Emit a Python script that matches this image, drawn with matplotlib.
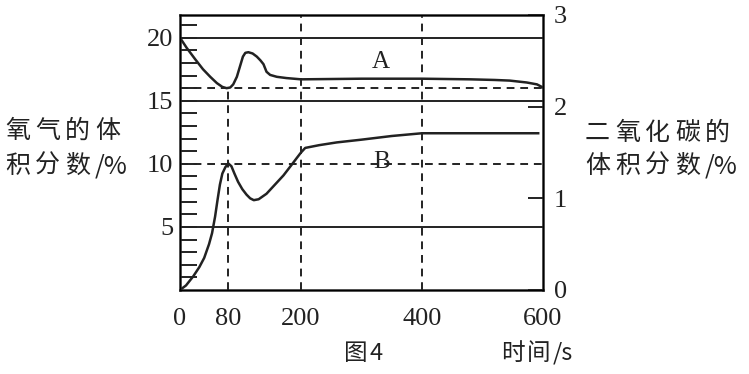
import matplotlib
matplotlib.use("Agg")
import matplotlib.pyplot as plt

# curve A: oxygen (left axis, %), curve B: carbon dioxide (right axis, %)
t_a = [0, 11, 25, 38, 50, 61, 70, 77, 83, 88, 94, 99, 104, 108, 113, 120, 127,
       133, 138, 143, 149, 160, 176, 200, 300, 400, 480, 520, 545, 573, 590, 600]
o2 = [20.0, 19.2, 18.3, 17.5, 16.9, 16.4, 16.1, 16.0, 16.05, 16.3, 16.9, 17.7,
      18.5, 18.8, 18.85, 18.75, 18.5, 18.2, 17.9, 17.3, 17.05, 16.9, 16.8, 16.7,
      16.75, 16.75, 16.7, 16.65, 16.6, 16.45, 16.3, 16.05]

t_b = [0, 10, 22, 32, 40, 48, 53, 58, 62, 66, 70, 75, 80, 85, 90, 96, 103, 110,
       116, 122, 130, 143, 157, 171, 185, 193, 200, 207, 230, 259, 300, 350, 400,
       500, 592]
co2 = [0, 0.05, 0.15, 0.25, 0.35, 0.5, 0.62, 0.8, 0.98, 1.15, 1.27, 1.34, 1.38,
       1.35, 1.27, 1.18, 1.1, 1.04, 1.0, 0.98, 0.99, 1.05, 1.15, 1.25, 1.37,
       1.44, 1.5, 1.55, 1.58, 1.61, 1.64, 1.68, 1.71, 1.71, 1.71]

x_ticks = [0, 80, 200, 400, 600]
left_ticks = [5, 10, 15, 20]
right_ticks = [0, 1, 2, 3]

num_font = "Liberation Serif"
cjk = ["Noto Sans CJK SC", "DejaVu Sans"]
ink = "#222222"

W, H = 749, 374
fig = plt.figure(figsize=(W / 100, H / 100), dpi=100)
ax = fig.add_axes([0.2403, 0.2246, 0.4847, 0.7353])
ax2 = ax.twinx()

ax.set_xlim(0, 600)
ax.set_ylim(0, 21.8)
ax2.set_ylim(0, 3)

# guide lines
for v in [20, 15, 5]:
    ax.axhline(v, color=ink, lw=1.4)
for v in [10, 16]:
    ax.axhline(v, color=ink, lw=1.4, ls=(0, (4, 3)))
ax.vlines(80, 0, 16, color=ink, lw=1.4, ls=(0, (4, 3)))
ax.vlines([200, 400], 0, 21.8, color=ink, lw=1.4, ls=(0, (4, 3)))

ax.plot(t_a, o2, color=ink, lw=1.8)
ax2.plot(t_b, co2, color=ink, lw=1.8)

ax.text(332, 18.1, "A", fontsize=18, family=num_font, ha="center", va="center", color=ink)
ax2.text(334, 1.40, "B", fontsize=18, family=num_font, ha="center", va="center", color=ink)

for s in ax.spines.values():
    s.set_linewidth(1.8)
    s.set_color(ink)

ax.set_xticks(x_ticks)
ax.set_xticklabels([str(v) for v in x_ticks], fontsize=19, family=num_font, color=ink)
ax.tick_params(axis="x", length=0, pad=13)
ax.set_yticks(left_ticks)
ax.set_yticklabels([str(v) for v in left_ticks], fontsize=19, family=num_font, color=ink)
ax.set_yticks(range(1, 22), minor=True)
ax.tick_params(axis="y", which="both", direction="in", length=12, width=1.4,
               color=ink, pad=5)
ax2.set_yticks(right_ticks)
ax2.set_yticklabels([str(v) for v in right_ticks], fontsize=19, family=num_font, color=ink)
ax2.tick_params(axis="y", direction="in", length=11, width=1.4, color=ink, pad=8)


def spaced(x0, y0, parts, step=30, size=18):
    # the printed labels are letter-spaced, so set each glyph on its own
    for i, p in enumerate(parts):
        fig.text((x0 + i * step) / W, 1 - y0 / H, p, fontsize=size, family=cjk,
                 color=ink, va="center", ha="left")


spaced(5, 131, ["氧", "气", "的", "体"])
spaced(5, 166, ["积", "分", "数", "/%"])
spaced(585, 133, ["二", "氧", "化", "碳", "的"])
spaced(585, 166, ["体", "积", "分", "数", "/%"])
spaced(501, 353, ["时", "间", "/s"], step=26, size=17)
spaced(344, 353, ["图", "4"], step=26, size=17)

fig.savefig("out.png", dpi=100)
